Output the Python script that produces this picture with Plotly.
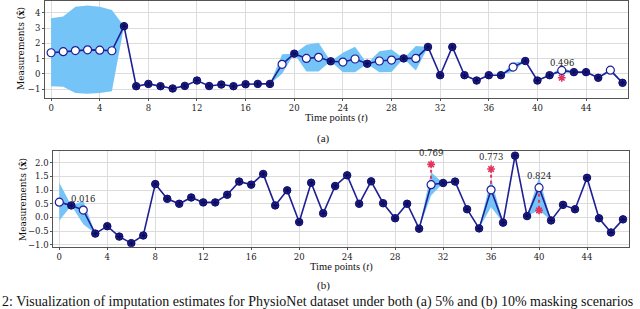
import plotly.graph_objects as go

# ---------------- data: panel (a) ----------------
t_a = list(range(48))
vals_a = [1.38, 1.45, 1.52, 1.57, 1.55, 1.51, 3.12, -0.81, -0.66, -0.81,
          -0.96, -0.79, -0.44, -0.80, -0.70, -0.81, -0.68, -0.66, -0.66, 0.62,
          1.32, 1.01, 1.08, 0.82, 0.77, 0.97, 0.66, 0.84, 0.90, 1.01,
          1.01, 1.76, -0.09, 1.76, -0.09, -0.44, -0.09, -0.09, 0.44, 0.84,
          -0.44, -0.09, 0.22, 0.11, 0.11, -0.26, 0.24, -0.59]
imputed_a = [0, 1, 2, 3, 4, 5, 19, 21, 22, 24, 25, 27, 28, 30, 38, 42, 46]
band_lo_a = [-0.81, -0.85, -1.25, -1.31, -1.25, -1.14, 0.00, 0.15, 0.15, 0.10, 0.10, 0.10, 0.12, 0.22, 0.15, 0.05, 0.08]
band_hi_a = [3.64, 3.75, 4.39, 4.47, 4.39, 4.17, 1.28, 1.90, 2.03, 1.38, 1.78, 1.47, 1.60, 1.82, 0.72, 0.45, 0.38]
truth_t_a = [42]
truth_v_a = [-0.26]
err_labels_a = ["0.496"]
err_label_y_a = [0.70]

# ---------------- data: panel (b) ----------------
t_b = list(range(48))
vals_b = [0.56, 0.44, 0.27, -0.59, -0.32, -0.70, -0.94, -0.66, 1.22, 0.68,
          0.50, 0.73, 0.55, 0.55, 0.83, 1.31, 1.20, 1.59, 0.44, 0.99,
          -0.17, 1.27, 0.15, 1.15, 1.54, 0.50, 1.32, 0.52, -0.03, 0.50,
          -0.41, 1.20, 1.26, 1.31, 0.30, -0.40, 1.01, -0.19, 2.26, 0.05,
          1.09, -0.11, 0.46, 0.30, 1.45, -0.03, -0.55, -0.07]
imputed_b = [0, 2, 31, 36, 40]
band_lo_b = [-0.12, -0.25, 0.80, 0.38, 0.26]
band_hi_b = [1.27, 0.60, 1.65, 1.42, 1.48]
truth_t_b = [2, 31, 36, 40]
truth_v_b = [0.28, 1.94, 1.77, 0.26]
err_labels_b = ["0.016", "0.769", "0.773", "0.824"]
err_label_x_b = [2, 31, 36, 40]
err_label_y_b = [0.69, 2.35, 2.21, 1.52]

x_ticks = [0, 4, 8, 12, 16, 20, 24, 28, 32, 36, 40, 44]

# ---------------- styling ----------------
W, H = 640, 309
LINE = "#1f1f96"
MARK = "#23239c"
EDGE = "#0c0c66"
STAR = "#0a0a50"
BAND = "#74c4f8"
RED = "#e3345f"
SERIF = "DejaVu Serif"
TIMES = "Liberation Serif"


def px2x(px):
    return px / W


def px2y(py):
    return 1 - py / H


fig = go.Figure()


def add_panel(t, vals, imputed, lo_i, hi_i, tt, tv, xa, ya):
    lo = list(vals)
    hi = list(vals)
    for i, k in enumerate(imputed):
        lo[k] = lo_i[i]
        hi[k] = hi_i[i]
    fig.add_trace(go.Scatter(x=t, y=lo, mode="lines", line=dict(width=0, color=BAND),
                             hoverinfo="skip", showlegend=False, xaxis=xa, yaxis=ya))
    fig.add_trace(go.Scatter(x=t, y=hi, mode="lines", line=dict(width=0, color=BAND),
                             fill="tonexty", fillcolor=BAND, hoverinfo="skip",
                             showlegend=False, xaxis=xa, yaxis=ya))
    fig.add_trace(go.Scatter(x=t, y=vals, mode="lines", line=dict(width=1.6, color=LINE),
                             showlegend=False, xaxis=xa, yaxis=ya))
    # dotted lines from ground truth to imputation
    lx, ly = [], []
    for k, v in zip(tt, tv):
        lx += [k, k, None]
        ly += [vals[k], v, None]
    fig.add_trace(go.Scatter(x=lx, y=ly, mode="lines",
                             line=dict(width=2, color=RED, dash="dot"),
                             showlegend=False, xaxis=xa, yaxis=ya))
    obs_t = [k for k in t if k not in imputed]
    fig.add_trace(go.Scatter(x=obs_t, y=[vals[k] for k in obs_t], mode="markers",
                             marker=dict(symbol="circle", size=7.5, color=MARK,
                                         line=dict(width=1, color=EDGE)),
                             showlegend=False, xaxis=xa, yaxis=ya))
    fig.add_trace(go.Scatter(x=obs_t, y=[vals[k] for k in obs_t], mode="markers",
                             marker=dict(symbol="asterisk-open", size=5, color=STAR,
                                         line=dict(width=1, color=STAR)),
                             showlegend=False, xaxis=xa, yaxis=ya))
    fig.add_trace(go.Scatter(x=tt, y=tv, mode="markers",
                             marker=dict(symbol="asterisk-open", size=6.5, color=RED,
                                         line=dict(width=1.6, color=RED)),
                             showlegend=False, xaxis=xa, yaxis=ya))
    fig.add_trace(go.Scatter(x=imputed, y=[vals[k] for k in imputed], mode="markers",
                             marker=dict(symbol="circle", size=8, color="white",
                                         line=dict(width=1.2, color=LINE)),
                             showlegend=False, xaxis=xa, yaxis=ya))


add_panel(t_a, vals_a, imputed_a, band_lo_a, band_hi_a, truth_t_a, truth_v_a, "x", "y")
add_panel(t_b, vals_b, imputed_b, band_lo_b, band_hi_b, truth_t_b, truth_v_b, "x2", "y2")

axis_common = dict(showgrid=True, gridcolor="#dcdcdc", gridwidth=1, zeroline=False,
                   showline=True, linecolor="#555555", linewidth=1, mirror=True,
                   ticks="outside", tickcolor="#555555",
                   tickfont=dict(family=SERIF, size=8.5, color="#222222"),
                   automargin=False)

fig.update_layout(
    width=W, height=H,
    margin=dict(l=0, r=0, t=0, b=0),
    paper_bgcolor="white", plot_bgcolor="white",
    xaxis=dict(domain=[px2x(45), px2x(628)], range=[-0.5, 47.45], tickvals=x_ticks,
               anchor="y", ticklen=2, **axis_common),
    yaxis=dict(domain=[px2y(97.5), px2y(0.5)], range=[-1.55, 4.8],
               tickvals=[-1, 0, 1, 2, 3, 4], anchor="x", ticklen=2, **axis_common),
    xaxis2=dict(domain=[px2x(53.3), px2x(629)], range=[-0.5, 47.5], tickvals=x_ticks,
                anchor="y2", ticklen=2, **axis_common),
    yaxis2=dict(domain=[px2y(246.7), px2y(151)], range=[-1.07, 2.43],
                tickvals=[-1.0, -0.5, 0.0, 0.5, 1.0, 1.5, 2.0], tickformat=".1f",
                anchor="x2", ticklen=2, **axis_common),
)


def paper_text(px, py, text, family, size, angle=0, xanchor="center"):
    return dict(x=px2x(px), y=px2y(py), xref="paper", yref="paper", text=text,
                showarrow=False, xanchor=xanchor, yanchor="middle", textangle=angle,
                font=dict(family=family, size=size, color="#111111"))


ann = []
for lab, k, yv in zip(err_labels_a, truth_t_a, err_label_y_a):
    ann.append(dict(x=k, y=yv, xref="x", yref="y", text=lab, showarrow=False,
                    xanchor="center", yanchor="middle",
                    font=dict(family=SERIF, size=8.5, color="#222222")))
for lab, k, yv in zip(err_labels_b, err_label_x_b, err_label_y_b):
    ann.append(dict(x=k, y=yv, xref="x2", yref="y2", text=lab, showarrow=False,
                    xanchor="center", yanchor="middle",
                    font=dict(family=SERIF, size=8.5, color="#222222")))
# axis titles
ann.append(paper_text(336, 117.5, "Time points (<i>t</i>)", TIMES, 10.5))
ann.append(paper_text(341, 267, "Time points (<i>t</i>)", TIMES, 10.5))
ann.append(paper_text(21, 49, "Measurements (<b>x\u0302</b>)", SERIF, 9, angle=-90))
ann.append(paper_text(23, 200, "Measurements (<b>x\u0302</b>)", SERIF, 9, angle=-90))
# sub-captions
ann.append(paper_text(323, 138, "(a)", TIMES, 11))
ann.append(paper_text(323, 285.5, "(b)", TIMES, 11))
ann.append(paper_text(0, 302,
                      "2: Visualization of imputation estimates for PhysioNet dataset under both (a) 5% and (b) 10% masking scenarios",
                      TIMES, 14, xanchor="left"))
fig.update_layout(annotations=ann)

fig.write_html("out.html", config={"displayModeBar": False},
               post_script="document.body.style.margin='0';document.body.style.overflow='hidden';")
